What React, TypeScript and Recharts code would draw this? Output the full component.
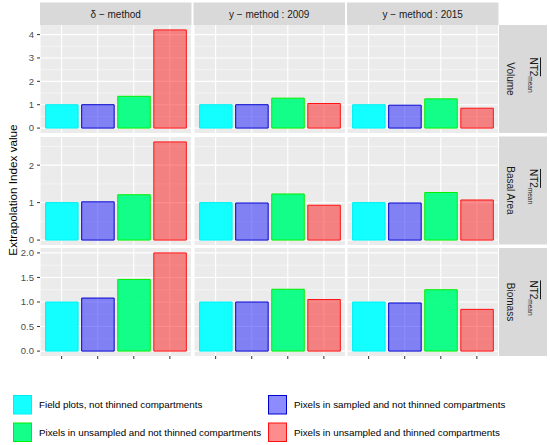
import { BarChart, Bar, XAxis, YAxis, CartesianGrid, Cell } from 'recharts';

// categories (one bar each, same order in every panel)
const categories = ['field', 'sampled', 'unsampled', 'thinned'];
const legendLabels = [
  'Field plots, not thinned compartments',
  'Pixels in sampled and not thinned compartments',
  'Pixels in unsampled and not thinned compartments',
  'Pixels in unsampled and thinned compartments',
];
const methods = ['δ − method', 'y − method : 2009', 'y − method : 2015'];
const variables = ['Volume', 'Basal Area', 'Biomass'];

// values
const volumeDelta = [1.0, 1.0, 1.36, 4.2];
const volume2009 = [1.0, 1.0, 1.28, 1.05];
const volume2015 = [1.0, 0.98, 1.25, 0.85];
const basalDelta = [1.0, 1.02, 1.21, 2.62];
const basal2009 = [1.0, 0.99, 1.23, 0.93];
const basal2015 = [1.0, 0.99, 1.27, 1.07];
const biomassDelta = [1.0, 1.08, 1.46, 2.0];
const biomass2009 = [1.0, 1.0, 1.26, 1.05];
const biomass2015 = [1.0, 0.98, 1.25, 0.85];

const volumeTicks = [0, 1, 2, 3, 4];
const basalTicks = [0, 1, 2];
const biomassTicks = [0, 0.5, 1, 1.5, 2];
const volumeMinor = [0.5, 1.5, 2.5, 3.5];
const basalMinor = [0.5, 1.5, 2.5];
const biomassMinor = [0.25, 0.75, 1.25, 1.75];

const FILLS = ['#00FFFF', '#0000FF', '#00FF7F', '#FF0000'];
const FILL_OPACITY = [0.92, 0.45, 0.92, 0.45];
const STROKES = ['#00F0F0', '#0000CD', '#00EE00', '#FF1010'];

const rows = [
  { values: [volumeDelta, volume2009, volume2015], ticks: volumeTicks, minor: volumeMinor, fmt: (v: number) => String(v) },
  { values: [basalDelta, basal2009, basal2015], ticks: basalTicks, minor: basalMinor, fmt: (v: number) => String(v) },
  { values: [biomassDelta, biomass2009, biomass2015], ticks: biomassTicks, minor: biomassMinor, fmt: (v: number) => v.toFixed(1) },
];

const FONT = '"Liberation Sans", Arial, Helvetica, sans-serif';
const COL_LEFT = [40, 193.5, 347];
const PANEL_W = 151.5;
const ROW_TOP = [25, 136.5, 248];
const PANEL_H = 108;
const AXIS_W = 40;
const STRIP_X = 499;
const STRIP_W = 48;

function Panel({ row, col }: { row: number; col: number }) {
  const r = rows[row];
  const values = r.values[col];
  const data = categories.map((c, i) => ({ name: c, value: values[i] }));
  // ggplot style 5% expansion, free y per row
  const max = Math.max(...r.values.flat());
  const domain = [-0.05 * max, 1.05 * max];
  const showY = col === 0;
  const lastRow = row === rows.length - 1;
  const width = PANEL_W + (showY ? AXIS_W : 0);
  const height = PANEL_H + (lastRow ? 6 : 0);
  return (
    <div style={{ position: 'absolute', left: COL_LEFT[col] - (showY ? AXIS_W : 0), top: ROW_TOP[row] }}>
      <BarChart width={width} height={height} data={data} margin={{ top: 0, right: 0, bottom: 0, left: 0 }}>
        <CartesianGrid fill="#EBEBEB" fillOpacity={1} stroke="#FAFAFA" strokeWidth={0.6} vertical={false} horizontalValues={r.minor} />
        <CartesianGrid stroke="#FFFFFF" strokeWidth={1.1} horizontalValues={r.ticks} />
        <XAxis
          dataKey="name"
          hide={!lastRow}
          padding={{ left: 3.6, right: 3.6 }}
          axisLine={false}
          tickSize={3}
          tickLine={{ stroke: '#333333' }}
          tickFormatter={() => ''}
          height={6}
          interval={0}
        />
        <YAxis
          type="number"
          domain={domain}
          ticks={r.ticks}
          interval={0}
          allowDataOverflow
          hide={!showY}
          width={AXIS_W}
          axisLine={false}
          tickSize={3}
          tickMargin={3}
          tickLine={{ stroke: '#333333' }}
          tick={{ fill: '#4D4D4D', fontSize: 9.5, fontFamily: FONT }}
          tickFormatter={r.fmt}
        />
        <Bar dataKey="value" isAnimationActive={false} barSize={32.5}>
          {data.map((d, i) => (
            <Cell key={d.name} fill={FILLS[i]} fillOpacity={FILL_OPACITY[i]} stroke={STROKES[i]} strokeWidth={1} />
          ))}
        </Bar>
      </BarChart>
    </div>
  );
}

export default function App() {
  return (
    <div style={{ position: 'absolute', left: 0, top: 0, width: 550, height: 445, background: '#FFFFFF', fontFamily: FONT }}>
      <svg width={550} height={445} style={{ position: 'absolute', left: 0, top: 0 }}>
        {/* top strips */}
        {methods.map((m, i) => (
          <g key={m}>
            <rect x={COL_LEFT[i]} y={2.5} width={PANEL_W} height={22.5} fill="#D9D9D9" />
            <text x={COL_LEFT[i] + PANEL_W / 2} y={14} textAnchor="middle" dominantBaseline="central" fontSize={10} fill="#1A1A1A">
              {m}
            </text>
          </g>
        ))}
        {/* right strips */}
        {variables.map((v, i) => {
          const cy = ROW_TOP[i] + PANEL_H / 2;
          return (
            <g key={v}>
              <rect x={STRIP_X} y={ROW_TOP[i]} width={STRIP_W} height={PANEL_H} fill="#D9D9D9" />
              <text x={510.5} y={cy} transform={`rotate(90 510.5 ${cy})`} textAnchor="middle" dominantBaseline="central" fontSize={10} fill="#1A1A1A">
                {v}
              </text>
              <text x={534} y={cy - 4} transform={`rotate(90 534 ${cy - 4})`} textAnchor="middle" dominantBaseline="central" fontSize={10} fill="#1A1A1A">
                <tspan style={{ textDecoration: 'overline' }}>NT2</tspan>
                <tspan fontSize={6.5} dy={3}>mean</tspan>
              </text>
            </g>
          );
        })}
        {/* y axis title */}
        <text x={12} y={190} transform="rotate(-90 12 190)" textAnchor="middle" dominantBaseline="central" fontSize={11.7} fill="#000000">
          Extrapolation Index value
        </text>
        {/* legend */}
        {legendLabels.map((label, i) => {
          const x = i % 2 === 0 ? 13 : 268;
          const y = i < 2 ? 395 : 422.5;
          return (
            <g key={label}>
              <rect x={x + 0.5} y={y + 0.5} width={18} height={18.5} fill={FILLS[i]} fillOpacity={FILL_OPACITY[i]} stroke={STROKES[i]} strokeWidth={1} />
              <text x={x + 26} y={y + 9.5} dominantBaseline="central" fontSize={9.8} fill="#000000">
                {label}
              </text>
            </g>
          );
        })}
      </svg>
      {rows.map((_, row) => [0, 1, 2].map((col) => <Panel key={`${row}-${col}`} row={row} col={col} />))}
    </div>
  );
}
